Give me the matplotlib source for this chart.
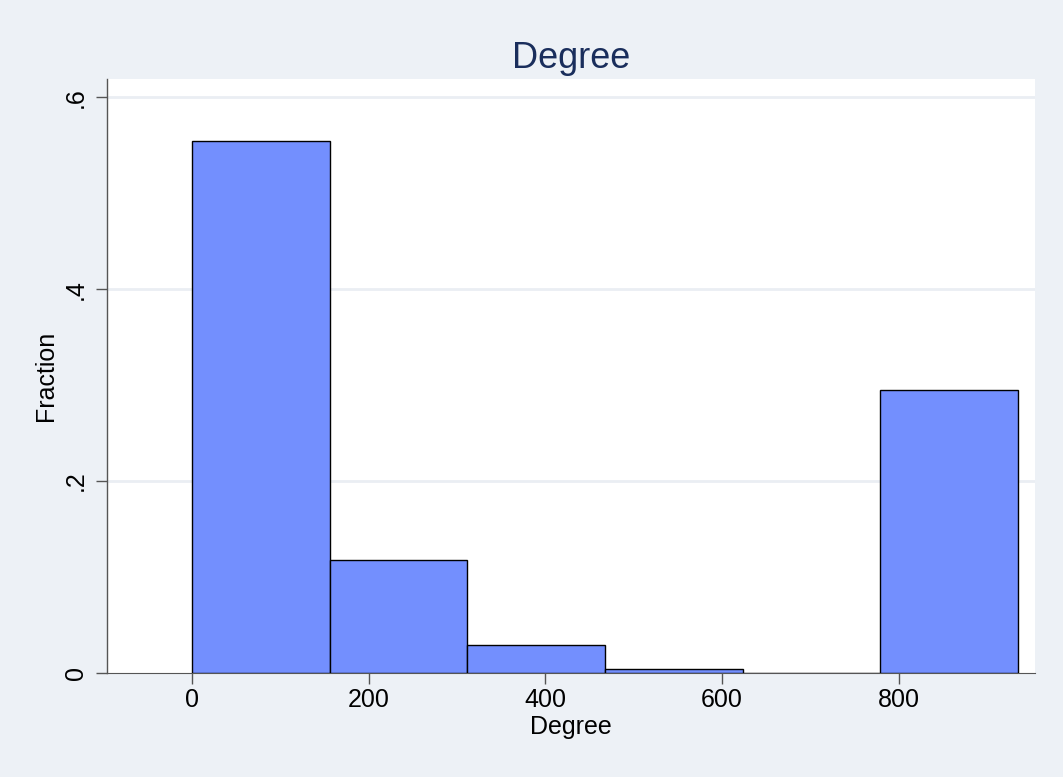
import matplotlib.pyplot as plt

plt.rcParams['font.family'] = ['Liberation Sans', 'DejaVu Sans']

# histogram bins (left edges) and fraction per bin
bin_left = [0, 155.8, 311.5, 467.3, 623.0, 778.8]
bin_width = 155.8
fraction = [0.554, 0.118, 0.029, 0.004, 0.0, 0.295]

y_ticks = [0, 0.2, 0.4, 0.6]
y_labels = ["0", ".2", ".4", ".6"]
x_ticks = [0, 200, 400, 600, 800]

bg = "#edf1f6"
bar_color = "#738ffe"

fig = plt.figure(figsize=(10.63, 7.77), dpi=100, facecolor=bg)
ax = fig.add_axes([0.1007, 0.1338, 0.8730, 0.7645])
ax.set_facecolor("white")

ax.bar(bin_left, fraction, width=bin_width, align='edge',
       color=bar_color, edgecolor="black", linewidth=1.0, zorder=3)

ax.set_xlim(-96, 954)
ax.set_ylim(0, 0.619)

ax.set_yticks(y_ticks)
ax.set_yticklabels(y_labels, rotation=90, va='center')
ax.set_xticks(x_ticks)
ax.tick_params(axis='both', labelsize=18, length=8, width=1, color="#555555")
ax.tick_params(axis='y', pad=6)
ax.tick_params(axis='x', pad=3)

for y in y_ticks[1:]:
    ax.axhline(y, color="#eaeef3", linewidth=2, zorder=1)

for s in ['top', 'right']:
    ax.spines[s].set_visible(False)
ax.spines['left'].set_color("#555555")
ax.spines['bottom'].set_color("#555555")
ax.spines['left'].set_linewidth(1)
ax.spines['bottom'].set_linewidth(0.8)

ax.set_title("Degree", fontsize=26, color="#1a2e5c", pad=8)
ax.set_xlabel("Degree", fontsize=18, labelpad=2)
ax.set_ylabel("Fraction", fontsize=18, labelpad=4)

fig.savefig("out.png", dpi=100, facecolor=bg)
